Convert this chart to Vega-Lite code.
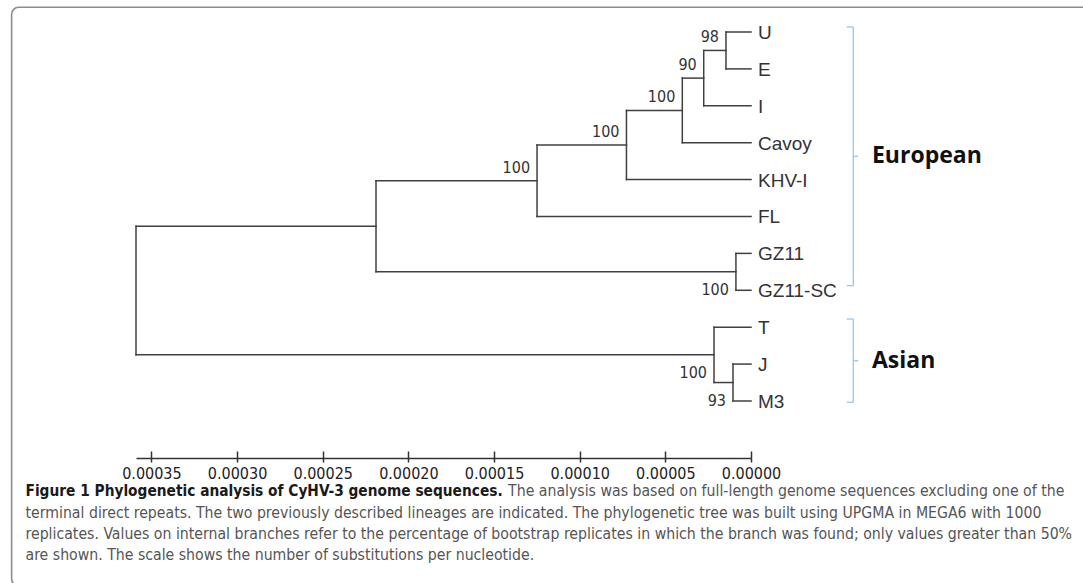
{
  "$schema": "https://vega.github.io/schema/vega-lite/v6.json",
  "width": 615,
  "height": 458,
  "autosize": {"type": "none"},
  "padding": {"left": 136, "top": 0, "right": 332, "bottom": 125},
  "background": "white",
  "config": {"view": {"stroke": null}, "axis": {"grid": false}},
  "datasets": {
    "branches": [
      {"x": 0.000359, "x2": 0.000359, "y": 5.265625, "y2": 8.75},
      {"x": 0.0002189, "x2": 0.0002189, "y": 4.03125, "y2": 6.5},
      {"x": 0.0001249, "x2": 0.0001249, "y": 3.0625, "y2": 5},
      {"x": 0.0000727, "x2": 0.0000727, "y": 2.125, "y2": 4},
      {"x": 0.0000401, "x2": 0.0000401, "y": 1.25, "y2": 3},
      {"x": 0.0000276, "x2": 0.0000276, "y": 0.5, "y2": 2},
      {"x": 0.0000146, "x2": 0.0000146, "y": 0, "y2": 1},
      {"x": 0.0000088, "x2": 0.0000088, "y": 6, "y2": 7},
      {"x": 0.0000216, "x2": 0.0000216, "y": 8, "y2": 9.5},
      {"x": 0.0000105, "x2": 0.0000105, "y": 9, "y2": 10},
      {"x": 0.000359, "x2": 0.0002189, "y": 5.265625, "y2": 5.265625},
      {"x": 0.000359, "x2": 0.0000216, "y": 8.75, "y2": 8.75},
      {"x": 0.0002189, "x2": 0.0001249, "y": 4.03125, "y2": 4.03125},
      {"x": 0.0002189, "x2": 0.0000088, "y": 6.5, "y2": 6.5},
      {"x": 0.0001249, "x2": 0.0000727, "y": 3.0625, "y2": 3.0625},
      {"x": 0.0001249, "x2": 0, "y": 5, "y2": 5},
      {"x": 0.0000727, "x2": 0.0000401, "y": 2.125, "y2": 2.125},
      {"x": 0.0000727, "x2": 0, "y": 4, "y2": 4},
      {"x": 0.0000401, "x2": 0.0000276, "y": 1.25, "y2": 1.25},
      {"x": 0.0000401, "x2": 0, "y": 3, "y2": 3},
      {"x": 0.0000276, "x2": 0.0000146, "y": 0.5, "y2": 0.5},
      {"x": 0.0000276, "x2": 0, "y": 2, "y2": 2},
      {"x": 0.0000146, "x2": 0, "y": 0, "y2": 0},
      {"x": 0.0000146, "x2": 0, "y": 1, "y2": 1},
      {"x": 0.0000088, "x2": 0, "y": 6, "y2": 6},
      {"x": 0.0000088, "x2": 0, "y": 7, "y2": 7},
      {"x": 0.0000216, "x2": 0, "y": 8, "y2": 8},
      {"x": 0.0000216, "x2": 0.0000105, "y": 9.5, "y2": 9.5},
      {"x": 0.0000105, "x2": 0, "y": 9, "y2": 9},
      {"x": 0.0000105, "x2": 0, "y": 10, "y2": 10}
    ],
    "leaves": [
      {"name": "U", "x": 0, "y": 0},
      {"name": "E", "x": 0, "y": 1},
      {"name": "I", "x": 0, "y": 2},
      {"name": "Cavoy", "x": 0, "y": 3},
      {"name": "KHV-I", "x": 0, "y": 4},
      {"name": "FL", "x": 0, "y": 5},
      {"name": "GZ11", "x": 0, "y": 6},
      {"name": "GZ11-SC", "x": 0, "y": 7},
      {"name": "T", "x": 0, "y": 8},
      {"name": "J", "x": 0, "y": 9},
      {"name": "M3", "x": 0, "y": 10}
    ],
    "support": [
      {"value": "100", "x": 0.0001249, "y": 4.03125, "pos": "above"},
      {"value": "100", "x": 0.0000727, "y": 3.0625, "pos": "above"},
      {"value": "100", "x": 0.0000401, "y": 2.125, "pos": "above"},
      {"value": "90", "x": 0.0000276, "y": 1.25, "pos": "above"},
      {"value": "98", "x": 0.0000146, "y": 0.5, "pos": "above"},
      {"value": "100", "x": 0.0000088, "y": 6.5, "pos": "below"},
      {"value": "100", "x": 0.0000216, "y": 8.75, "pos": "below"},
      {"value": "93", "x": 0.0000105, "y": 9.5, "pos": "below"}
    ],
    "brackets": [
      {"x": -0.0000597, "x2": -0.0000597, "y": -0.1355, "y2": 6.875},
      {"x": -0.0000559, "x2": -0.0000597, "y": -0.1355, "y2": -0.1355},
      {"x": -0.0000559, "x2": -0.0000597, "y": 6.875, "y2": 6.875},
      {"x": -0.0000597, "x2": -0.0000626, "y": 3.37, "y2": 3.37},
      {"x": -0.0000597, "x2": -0.0000597, "y": 7.778, "y2": 10.035},
      {"x": -0.0000559, "x2": -0.0000597, "y": 7.778, "y2": 7.778},
      {"x": -0.0000559, "x2": -0.0000597, "y": 10.035, "y2": 10.035},
      {"x": -0.0000597, "x2": -0.0000626, "y": 8.908, "y2": 8.908}
    ],
    "groups": [
      {"label": "European", "x": -0.0000706, "y": 3.37},
      {"label": "Asian", "x": -0.0000706, "y": 8.91}
    ],
    "frame": [
      {"x": 0.0004316, "x2": -0.0002008, "y": -0.669, "y2": 15.01}
    ],
    "captionBold": [
      {"text": "Figure 1  Phylogenetic analysis of CyHV-3 genome sequences.", "x": 0.0004235, "y": 12.439}
    ],
    "caption": [
      {"text": "The analysis was based on full-length genome sequences excluding one of the", "x": 0.0001418, "y": 12.439},
      {"text": "terminal direct repeats. The two previously described lineages are indicated. The phylogenetic tree was built using UPGMA in MEGA6 with 1000", "x": 0.0004235, "y": 13.022},
      {"text": "replicates. Values on internal branches refer to the percentage of bootstrap replicates in which the branch was found; only values greater than 50%", "x": 0.0004235, "y": 13.604},
      {"text": "are shown. The scale shows the number of substitutions per nucleotide.", "x": 0.0004235, "y": 14.187}
    ]
  },
  "encoding": {
    "x": {"field": "x", "type": "quantitative", "scale": {"domain": [0, 0.000359], "reverse": true, "nice": false, "zero": false}, "axis": null},
    "y": {"field": "y", "type": "quantitative", "scale": {"domain": [-0.867, 11.545], "reverse": true, "nice": false, "zero": false}, "axis": null}
  },
  "resolve": {"scale": {"x": "shared", "y": "shared"}, "axis": {"x": "independent"}},
  "layer": [
    {
      "data": {"name": "frame"},
      "mark": {"type": "rect", "filled": false, "stroke": "#8c8c8c", "strokeWidth": 1.6, "cornerRadius": 7},
      "encoding": {"x2": {"field": "x2"}, "y2": {"field": "y2"}}
    },
    {
      "data": {"name": "branches"},
      "mark": {"type": "rule", "color": "#404040", "strokeWidth": 1.5, "strokeCap": "square"},
      "encoding": {
        "x": {"field": "x", "type": "quantitative", "scale": {"domain": [0, 0.000359], "reverse": true, "nice": false, "zero": false},
          "axis": {"orient": "bottom", "offset": -7, "domain": false, "ticks": true, "tickSize": 11, "tickWidth": 1.5, "tickColor": "#333333",
            "values": [0.00035, 0.0003, 0.00025, 0.0002, 0.00015, 0.0001, 0.00005, 0], "format": ".5f",
            "labelFont": "DejaVu Sans Condensed, Liberation Sans", "labelFontSize": 16, "labelColor": "#222222", "labelPadding": 3, "labelFlush": false, "labelOverlap": false, "title": null}},
        "x2": {"field": "x2"}, "y2": {"field": "y2"}
      }
    },
    {
      "data": {"name": "leaves"},
      "mark": {"type": "text", "align": "left", "baseline": "middle", "dx": 7, "dy": 1, "font": "Liberation Sans", "fontSize": 19, "color": "#333333"},
      "encoding": {
        "x": {"field": "x", "type": "quantitative", "scale": {"domain": [0, 0.000359], "reverse": true, "nice": false, "zero": false},
          "axis": {"orient": "bottom", "domain": true, "domainColor": "#333333", "domainWidth": 1.5, "ticks": false, "labels": false, "title": null}},
        "text": {"field": "name"}
      }
    },
    {
      "data": {"name": "support"},
      "transform": [{"filter": "datum.pos == 'above'"}],
      "mark": {"type": "text", "align": "right", "baseline": "middle", "dx": -7, "dy": -13, "font": "DejaVu Sans Condensed, Liberation Sans", "fontSize": 16, "color": "#333333"},
      "encoding": {"text": {"field": "value"}}
    },
    {
      "data": {"name": "support"},
      "transform": [{"filter": "datum.pos == 'below'"}],
      "mark": {"type": "text", "align": "right", "baseline": "middle", "dx": -7, "dy": 18.5, "font": "DejaVu Sans Condensed, Liberation Sans", "fontSize": 16, "color": "#333333"},
      "encoding": {"text": {"field": "value"}}
    },
    {
      "data": {"name": "brackets"},
      "mark": {"type": "rule", "color": "#9fc5e8", "strokeWidth": 1.3},
      "encoding": {"x2": {"field": "x2"}, "y2": {"field": "y2"}}
    },
    {
      "data": {"name": "groups"},
      "mark": {"type": "text", "align": "left", "baseline": "middle", "font": "Open Sans", "fontWeight": "bold", "fontSize": 23, "color": "#111111"},
      "encoding": {"text": {"field": "label"}}
    },
    {
      "data": {"name": "captionBold"},
      "mark": {"type": "text", "align": "left", "baseline": "middle", "font": "DejaVu Sans Condensed, Liberation Sans", "fontWeight": "bold", "fontSize": 15.3, "color": "#1a1a1a"},
      "encoding": {"text": {"field": "text"}}
    },
    {
      "data": {"name": "caption"},
      "mark": {"type": "text", "align": "left", "baseline": "middle", "font": "DejaVu Sans Condensed, Liberation Sans", "fontSize": 15.7, "color": "#555555"},
      "encoding": {"text": {"field": "text"}}
    }
  ]
}
